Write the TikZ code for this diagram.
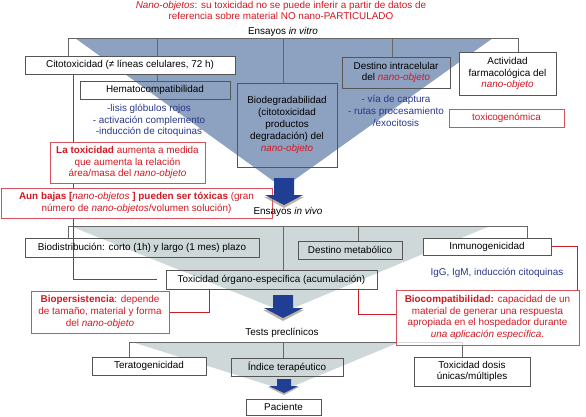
\documentclass[tikz,border=0pt]{standalone}
\usepackage{fontspec}
\setmainfont{Liberation Sans}

\definecolor{fanblue}{RGB}{141,161,192}
\definecolor{fangray}{RGB}{206,216,216}
\definecolor{boxline}{RGB}{85,85,85}
\definecolor{redtxt}{RGB}{210,25,35}
\definecolor{redline}{RGB}{200,30,40}
\definecolor{redbox}{RGB}{215,80,90}
\definecolor{navytxt}{RGB}{40,55,140}
\definecolor{arrowblue}{RGB}{32,62,148}

\pgfdeclarelayer{background}
\pgfsetlayers{background,main}

\tikzset{
  box/.style={draw=boxline,line width=0.6pt,inner sep=1pt,align=center},
  wbox/.style={box,fill=white},
  rbox/.style={draw=redbox,line width=0.6pt,fill=white,text=redtxt,inner sep=1pt,align=center},
  note/.style={text=navytxt,align=center,inner sep=0pt},
  plain/.style={align=center,inner sep=0pt}
}

\begin{document}
\begin{tikzpicture}[x=1pt,y=-1pt,font=\fontsize{9.9}{11.8}\selectfont]
  \useasboundingbox (0,0) rectangle (586,416);

  \node[plain,text=redtxt] (title) at (281,10.5) {\textit{Nano-objetos}: su toxicidad no se puede  inferir a partir de datos de\\referencia sobre material NO nano-PARTICULADO};
  \node[plain] (vitro) at (283,32) {Ensayos \textit{in vitro}};
  \node[plain] (tests) at (282,333) {Tests preclínicos};

  \coordinate (vl) at (68,38);
  \coordinate (vr) at (518,38);
  \coordinate (wl) at (68,226);
  \coordinate (wr) at (527,226);
  \coordinate (pl) at (129,342);
  \coordinate (pr) at (462,342);

  \node[wbox,minimum width=210pt,minimum height=18pt] (cito) at (130,65) {Citotoxicidad (≠ líneas celulares,  72 h)};
  \node[box,minimum width=150pt,minimum height=18pt] (hemato) at (155,90) {Hematocompatibilidad};
  \node[box,minimum width=100pt,minimum height=84pt] (biodeg) at (287,125) {Biodegradabilidad\\(citotoxicidad\\productos\\degradación) del\\\textcolor{redtxt}{\textit{nano-objeto}}};
  \node[box,minimum width=108pt,minimum height=31pt] (destino) at (396,72.5) {Destino intracelular\\del \textcolor{redtxt}{\textit{nano-objeto}}};
  \node[wbox,minimum width=97pt,minimum height=43pt] (activ) at (507.5,73.5) {Actividad\\farmacológica del\\\textcolor{redtxt}{\textit{nano-objeto}}};
  \node[note] (hlist) at (149,120.5) {-lisis glóbulos rojos\\- activación complemento\\-inducción de citoquinas};
  \node[note] (dlist) at (396,111) {- vía de captura\\- rutas procesamiento\\/exocitosis};
  \node[rbox,minimum width=115pt,minimum height=18pt] (toxgen) at (506.5,118) {toxicogenómica};
  \node[rbox,minimum width=155pt,minimum height=41pt] (toxrel) at (127.5,162.5) {\textbf{La toxicidad} aumenta a medida\\que aumenta la relación\\área/masa del \textit{nano-objeto}};
  \node[rbox,minimum width=271pt,minimum height=30pt] (bajas) at (136.5,203) {\textbf{Aun bajas [}\textit{nano-objetos}\textbf{ ] pueden ser tóxicas} (gran\\número de \textit{nano-objetos}/volumen solución)};
  \node[plain] (vivo) at (288,212) {Ensayos \textit{in vivo}};

  \node[box,minimum width=234pt,minimum height=19pt] (biodist) at (142,247.5) {Biodistribución: corto (1h) y largo  (1 mes) plazo};
  \node[box,minimum width=104pt,minimum height=18pt] (destmet) at (350,250) {Destino metabólico};
  \node[wbox,minimum width=128pt,minimum height=17pt] (inmuno) at (487,246.5) {Inmunogenicidad};
  \node[note] (igg) at (497,273) {IgG, IgM, inducción citoquinas};
  \node[box,minimum width=211pt,minimum height=19pt] (toxorg) at (271.5,279.5) {Toxicidad órgano-específica (acumulación)};
  \node[rbox,minimum width=138pt,minimum height=42pt] (biopers) at (100,312) {\textbf{Biopersistencia}: depende\\de tamaño, material y forma\\del \textit{nano-objeto}};
  \node[rbox,fill opacity=.75,text opacity=1,minimum width=183pt,minimum height=55pt] (biocomp) at (487.5,317.5) {\textbf{Biocompatibilidad:} capacidad de un\\material de generar una respuesta\\apropiada en el hospedador durante\\\textit{una aplicación específica}.};

  \node[wbox,minimum width=114pt,minimum height=18pt] (terat) at (149,366) {Teratogenicidad};
  \node[box,minimum width=112pt,minimum height=18pt] (indice) at (287,367) {Índice terapéutico};
  \node[wbox,minimum width=116pt,minimum height=29pt] (toxdos) at (472,371.5) {Toxicidad dosis\\únicas/múltiples};
  \node[wbox,minimum width=75pt,minimum height=16pt] (paciente) at (283.5,407) {Paciente};

  \begin{pgfonlayer}{background}
    \fill[fanblue] (75,38) -- (493,38) -- (283,188) -- cycle;
    \fill[fangray] (70,226) -- (490,226) -- (284,312) -- cycle;
    \fill[fangray] (132,342) -- (400,342) -- (284,390) -- cycle;

    \begin{scope}[every edge/.style={draw=gray!80!black,line width=0.7pt}]
      \path (vl) edge (vr);
      \path (vl) edge (vl |- cito.north);
      \path ([xshift=2pt]hemato.north |- vl) edge ([xshift=2pt]hemato.north);
      \path ([xshift=-4pt]biodeg.north |- vl) edge ([xshift=-4pt]biodeg.north);
      \path ([xshift=-4pt]destino.north |- vl) edge ([xshift=-4pt]destino.north);
      \path (vr) edge (vr |- activ.north);
      \path (wl) edge (wr);
      \path (wl) edge (wl |- biodist.north);
      \path ([xshift=11.5pt]toxorg.north |- wl) edge ([xshift=11.5pt]toxorg.north);
      \path ([xshift=8pt]destmet.north |- wl) edge ([xshift=8pt]destmet.north);
      \path (wr) edge (wr |- inmuno.north);
      \path (pl) edge (pr);
      \path (pl) edge (pl |- terat.north);
      \path ([xshift=-4pt]indice.north |- pl) edge ([xshift=-4pt]indice.north);
      \path (pr) edge (pr |- toxdos.north);
    \end{scope}

    \begin{scope}[every edge/.style={draw=redline,line width=1pt}]
      \path ([xshift=-57pt]cito.south) edge[to path={|- (\tikztotarget)}] ([xshift=-9pt]toxorg.west);
      \path ([xshift=-62.5pt]toxorg.south) edge[to path={|- (\tikztotarget)}] (biopers.east);
      \path ([xshift=86.5pt]toxorg.south) edge[to path={|- (\tikztotarget)}] ([yshift=3.5pt]biocomp.west);
      \path (inmuno.east) edge[to path={-| (\tikztotarget)}] ([xshift=-1.5pt]biocomp.north east);
    \end{scope}
  \end{pgfonlayer}

  \fill[gray!70!brown,opacity=.6] (264,197) -- (304,197) -- (284,208) -- cycle;
  \fill[arrowblue] (274,178) -- (294,178) -- (294,195) -- (303,195) -- (284,205) -- (265,195) -- (274,195) -- cycle;
  \fill[gray!70!brown,opacity=.6] (263,310) -- (304,310) -- (283,321) -- cycle;
  \fill[arrowblue] (273,295) -- (293,295) -- (293,308) -- (303,308) -- (283,318) -- (264,308) -- (273,308) -- cycle;
  \fill[gray!70!brown,opacity=.6] (268,387) -- (299,387) -- (284,395) -- cycle;
  \fill[arrowblue] (277,379) -- (291,379) -- (291,386) -- (298,386) -- (284,393) -- (269,386) -- (277,386) -- cycle;
\end{tikzpicture}
\end{document}
